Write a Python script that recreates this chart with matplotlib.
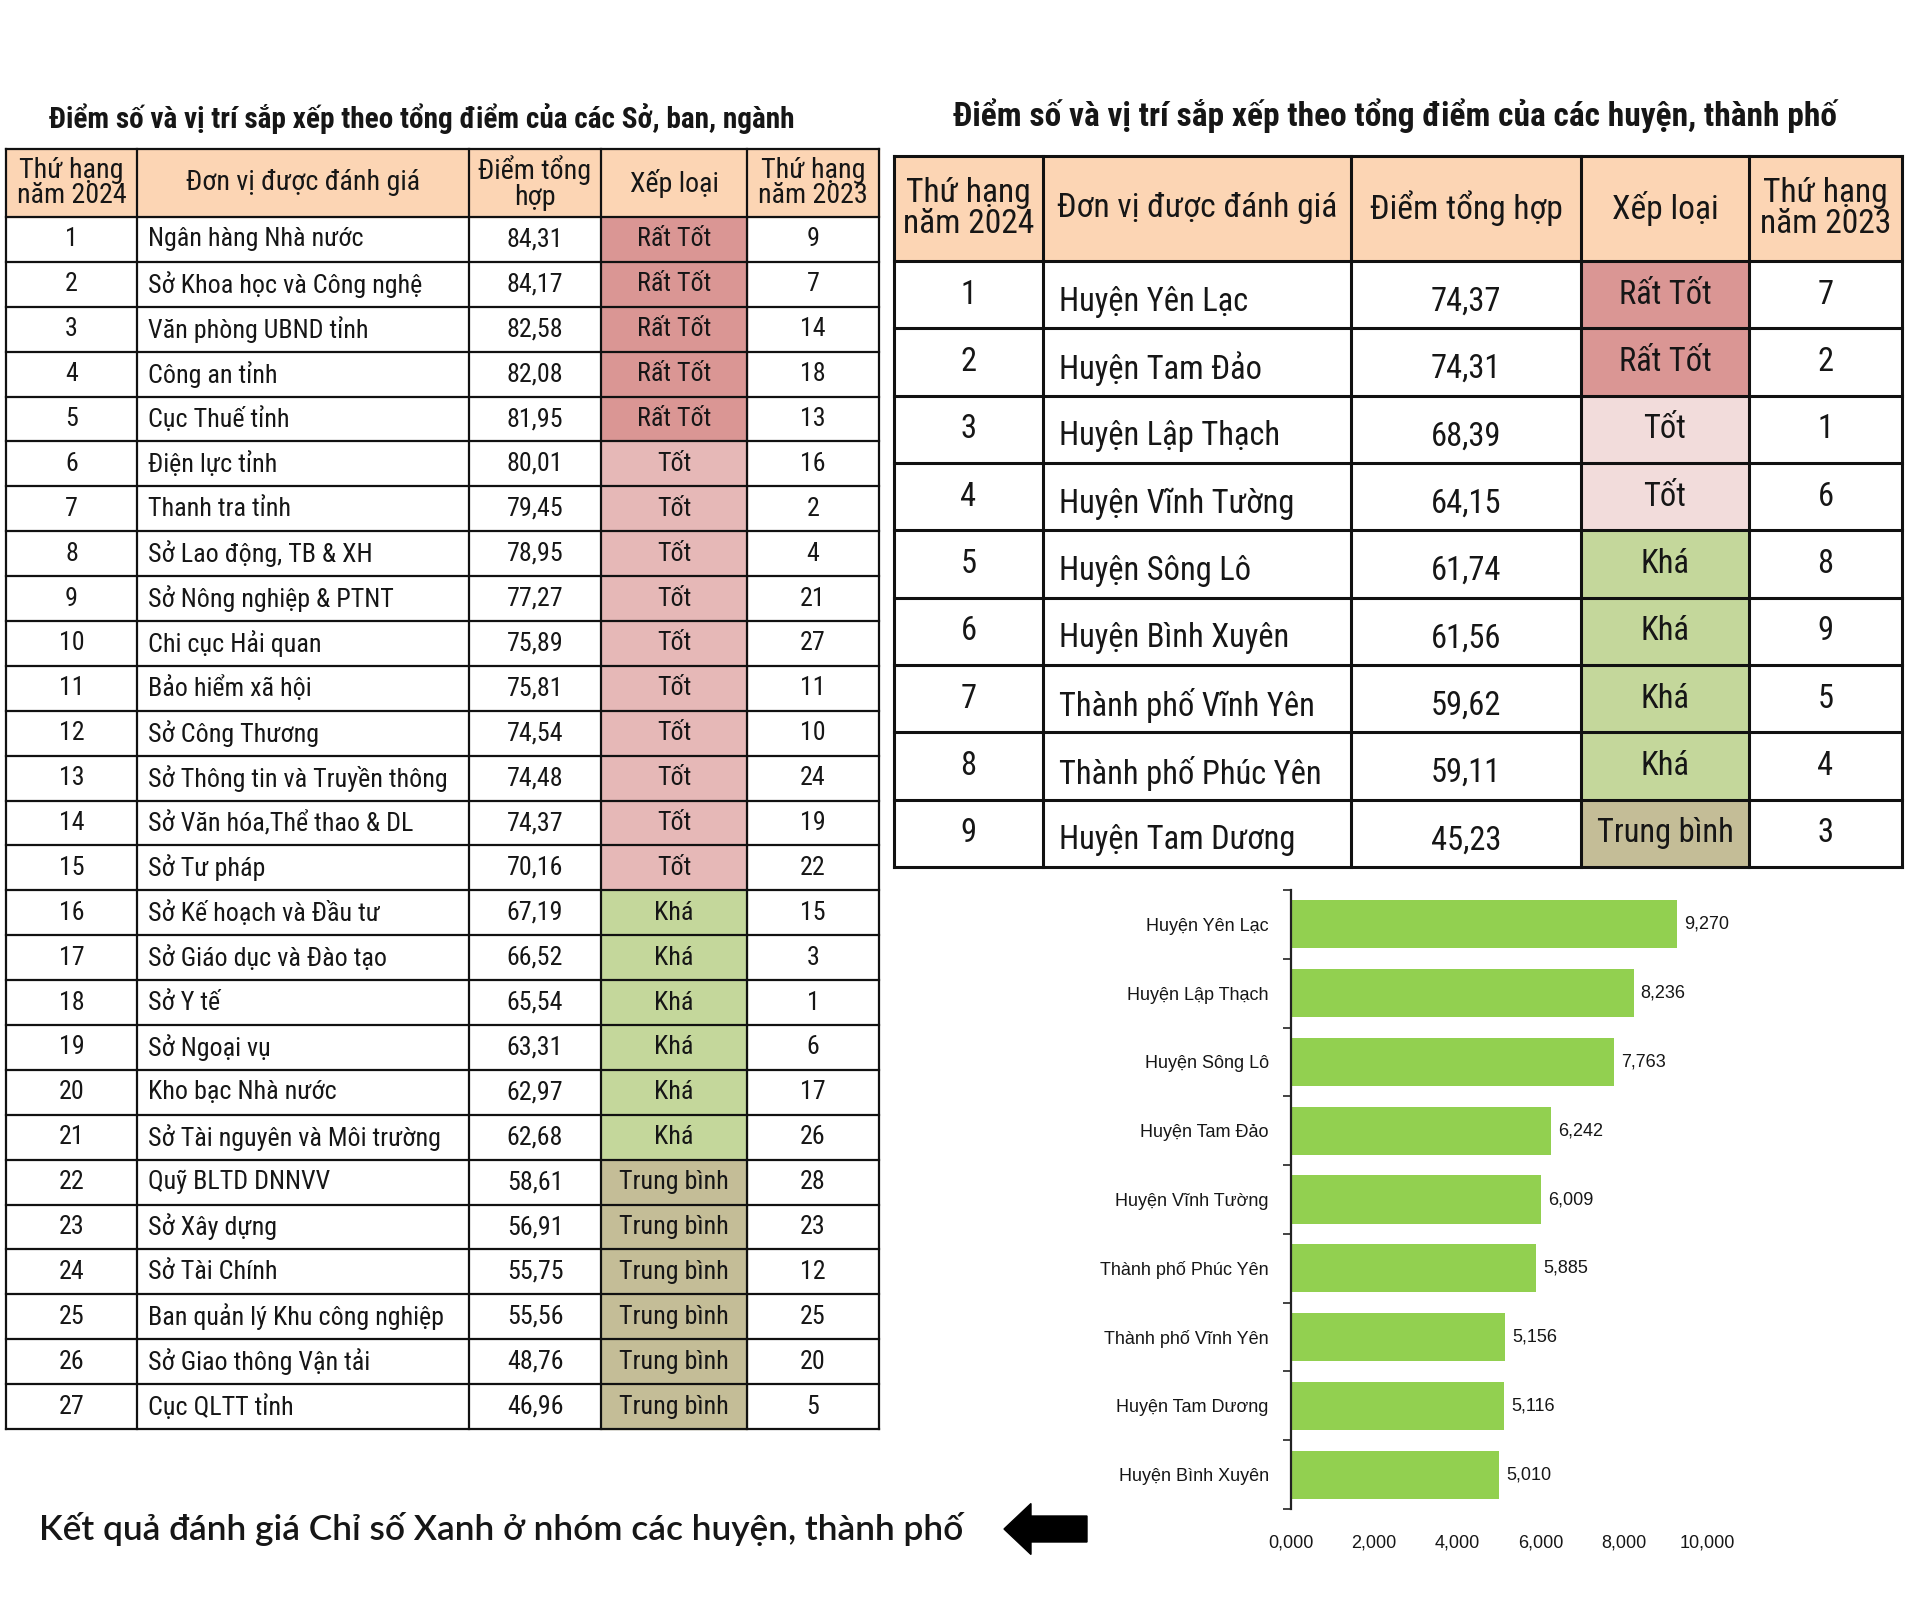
import matplotlib.pyplot as plt
from matplotlib import font_manager as fm
from matplotlib.patches import Rectangle, FancyArrow
from matplotlib.ticker import FuncFormatter, FixedLocator

# --- data: left table (Sở, ban, ngành) ---
left_rank = list(range(1, 28))
left_units = ["Ngân hàng Nhà nước", "Sở Khoa học và Công nghệ", "Văn phòng UBND tỉnh",
              "Công an tỉnh", "Cục Thuế tỉnh", "Điện lực tỉnh", "Thanh tra tỉnh",
              "Sở Lao động, TB & XH", "Sở Nông nghiệp & PTNT", "Chi cục Hải quan",
              "Bảo hiểm xã hội", "Sở Công Thương", "Sở Thông tin và Truyền thông",
              "Sở Văn hóa,Thể thao & DL", "Sở Tư pháp", "Sở Kế hoạch và Đầu tư",
              "Sở Giáo dục và Đào tạo", "Sở Y tế", "Sở Ngoại vụ", "Kho bạc Nhà nước",
              "Sở Tài nguyên và Môi trường", "Quỹ BLTD DNNVV", "Sở Xây dựng",
              "Sở Tài Chính", "Ban quản lý Khu công nghiệp", "Sở Giao thông Vận tải",
              "Cục QLTT tỉnh"]
left_scores = [84.31, 84.17, 82.58, 82.08, 81.95, 80.01, 79.45, 78.95, 77.27, 75.89,
               75.81, 74.54, 74.48, 74.37, 70.16, 67.19, 66.52, 65.54, 63.31, 62.97,
               62.68, 58.61, 56.91, 55.75, 55.56, 48.76, 46.96]
left_grades = ["Rất Tốt"] * 5 + ["Tốt"] * 10 + ["Khá"] * 6 + ["Trung bình"] * 6
left_rank_2023 = [9, 7, 14, 18, 13, 16, 2, 4, 21, 27, 11, 10, 24, 19, 22, 15, 3, 1, 6,
                  17, 26, 28, 23, 12, 25, 20, 5]

# --- data: right table (huyện, thành phố) ---
right_rank = list(range(1, 10))
right_units = ["Huyện Yên Lạc", "Huyện Tam Đảo", "Huyện Lập Thạch", "Huyện Vĩnh Tường",
               "Huyện Sông Lô", "Huyện Bình Xuyên", "Thành phố Vĩnh Yên",
               "Thành phố Phúc Yên", "Huyện Tam Dương"]
right_scores = [74.37, 74.31, 68.39, 64.15, 61.74, 61.56, 59.62, 59.11, 45.23]
right_grades = ["Rất Tốt", "Rất Tốt", "Tốt", "Tốt", "Khá", "Khá", "Khá", "Khá", "Trung bình"]
right_rank_2023 = [7, 2, 1, 6, 8, 9, 5, 4, 3]

# --- data: bar chart (Chỉ số Xanh) ---
bar_units = ["Huyện Yên Lạc", "Huyện Lập Thạch", "Huyện Sông Lô", "Huyện Tam Đảo",
             "Huyện Vĩnh Tường", "Thành phố Phúc Yên", "Thành phố Vĩnh Yên",
             "Huyện Tam Dương", "Huyện Bình Xuyên"]
bar_values = [9.270, 8.236, 7.763, 6.242, 6.009, 5.885, 5.156, 5.116, 5.010]

headers_left = ["Thứ hạng\nnăm 2024", "Đơn vị được đánh giá", "Điểm tổng\nhợp", "Xếp loại",
                "Thứ hạng\nnăm 2023"]
headers_right = ["Thứ hạng\nnăm 2024", "Đơn vị được đánh giá", "Điểm tổng hợp", "Xếp loại",
                 "Thứ hạng\nnăm 2023"]

HEADER_BG = "#FCD5B4"
TXT = "#161616"
colors_left = {"Rất Tốt": "#DA9694", "Tốt": "#E6B8B7", "Khá": "#C4D79B", "Trung bình": "#C4BD97"}
colors_right = {"Rất Tốt": "#DA9694", "Tốt": "#F2DCDB", "Khá": "#C4D79B", "Trung bình": "#C4BD97"}


def pick_font(named, stretches):
    # first a family that is condensed by name, then a condensed face of a common family
    names = {f.name for f in fm.fontManager.ttflist}
    for p in named:
        if p in names:
            return p, "normal"
    for fam in ["Noto Sans", "DejaVu Sans", "Open Sans", "Roboto", "Liberation Sans"]:
        have = {f.stretch for f in fm.fontManager.ttflist if f.name == fam}
        for st in stretches:
            if st in have:
                return fam, st
    return None


NAR = pick_font(["Liberation Sans Narrow", "Arial Narrow", "Roboto Condensed",
                 "Open Sans Condensed", "Noto Sans Condensed", "DejaVu Sans Condensed"],
                ["condensed", "semi-condensed", "extra-condensed"]) or ("Roboto", "normal")
ARIAL = ["Liberation Sans", "DejaVu Sans"]


def comma(v, nd=2):
    return f"{v:.{nd}f}".replace(".", ",")


fig = plt.figure(figsize=(19.2, 16.1), dpi=100)
renderer = fig.canvas.get_renderer()


def fit_size(s, target_px, font, weight="normal", base=20):
    t = fig.text(0, 0, s, fontsize=base, fontweight=weight, family=[font[0], "DejaVu Sans"],
                 fontstretch=font[1])
    w = t.get_window_extent(renderer=renderer).width
    t.remove()
    return base * target_px / w


def draw_table(ax, xs, y0, y1, row_h, headers, rank, units, scores, grades, rank23,
               colors, font, fs, hfs, lw, name_pad, dy_name):
    n = len(rank)
    kw = dict(family=[font[0], "DejaVu Sans"], fontstretch=font[1], color=TXT, zorder=3)
    ax.add_patch(Rectangle((xs[0], y0), xs[-1] - xs[0], y1 - y0, color=HEADER_BG, zorder=1))
    for i, h in enumerate(headers):
        ax.text((xs[i] + xs[i + 1]) / 2, (y0 + y1) / 2, h, ha="center", va="center",
                fontsize=hfs, linespacing=0.95, **kw)
    for r in range(n):
        top = y1 + r * row_h
        cy = top + row_h / 2
        ax.add_patch(Rectangle((xs[3], top), xs[4] - xs[3], row_h,
                               color=colors[grades[r]], zorder=1))
        ax.text((xs[0] + xs[1]) / 2, cy, str(rank[r]), ha="center", va="center",
                fontsize=fs, **kw)
        ax.text(xs[1] + name_pad, cy + dy_name, units[r], ha="left", va="center",
                fontsize=fs, **kw)
        ax.text((xs[2] + xs[3]) / 2, cy + dy_name, comma(scores[r]), ha="center",
                va="center", fontsize=fs, **kw)
        ax.text((xs[3] + xs[4]) / 2, cy, grades[r], ha="center", va="center",
                fontsize=fs, **kw)
        ax.text((xs[4] + xs[5]) / 2, cy, str(rank23[r]), ha="center", va="center",
                fontsize=fs, **kw)
    y_end = y1 + n * row_h
    for r in range(n + 1):
        yy = y1 + r * row_h
        ax.plot([xs[0], xs[-1]], [yy, yy], color="#111111", lw=lw, zorder=4,
                solid_capstyle="projecting")
    ax.plot([xs[0], xs[-1]], [y0, y0], color="#111111", lw=lw, zorder=4,
            solid_capstyle="projecting")
    for x in xs:
        ax.plot([x, x], [y0, y_end], color="#111111", lw=lw, zorder=4,
                solid_capstyle="projecting")


bg = fig.add_axes([0, 0, 1, 1])
bg.set_xlim(0, 1920)
bg.set_ylim(1610, 0)
bg.axis("off")

# titles, sized to the width they take in the picture
t1 = "Điểm số và vị trí sắp xếp theo tổng điểm của các Sở, ban, ngành"
t2 = "Điểm số và vị trí sắp xếp theo tổng điểm của các huyện, thành phố"
bg.text(49, 119, t1, ha="left", va="center", fontsize=fit_size(t1, 744, NAR, "bold"),
        fontweight="bold", family=[NAR[0], "DejaVu Sans"], fontstretch=NAR[1], color=TXT)
bg.text(953, 116, t2, ha="left", va="center", fontsize=fit_size(t2, 880, NAR, "bold"),
        fontweight="bold", family=[NAR[0], "DejaVu Sans"], fontstretch=NAR[1], color=TXT)

fs_l = min(fit_size("Sở Thông tin và Truyền thông", 298, NAR), 21)
hfs_l = min(fit_size("Đơn vị được đánh giá", 234, NAR), 21)
# the right table text is drawn tall in the picture, so go a little larger there
fs_r = min(fit_size("Thành phố Phúc Yên", 262, NAR), 32)
hfs_r = min(fit_size("Đơn vị được đánh giá", 280, NAR), 32)

draw_table(bg, [6, 137, 469, 601, 747, 879], 149, 217, (1429 - 217) / 27, headers_left,
           left_rank, left_units, left_scores, left_grades, left_rank_2023, colors_left,
           NAR, fs=fs_l, hfs=hfs_l, lw=1.6, name_pad=11, dy_name=0)
draw_table(bg, [894, 1043, 1351, 1581, 1749, 1902], 156, 261, (867 - 261) / 9, headers_right,
           right_rank, right_units, right_scores, right_grades, right_rank_2023, colors_right,
           NAR, fs=fs_r, hfs=hfs_r, lw=2.2, name_pad=16, dy_name=7)

# caption and arrow
cap = "Kết quả đánh giá Chỉ số Xanh ở nhóm các huyện, thành phố"
bg.text(39, 1529, cap, ha="left", va="center",
        fontsize=fit_size(cap, 923, ("Lato", "normal"), "semibold"),
        fontweight="semibold", family=["Lato", "DejaVu Sans"], color=TXT)
bg.add_patch(FancyArrow(1087, 1529, -83, 0, width=26, head_width=51, head_length=27,
                        length_includes_head=True, color="black"))

# bar chart
ax = fig.add_axes([1291 / 1920, 1 - 1509 / 1610, 416 / 1920, 619 / 1610])
y = list(range(len(bar_units)))
ax.barh(y, bar_values, height=0.7, color="#92D050")
for yi, v in zip(y, bar_values):
    ax.text(v + 0.17, yi, comma(v, 3), ha="left", va="center", fontsize=13,
            family=ARIAL, color=TXT)
ax.set_ylim(len(bar_units) - 0.5, -0.5)
ax.set_xlim(0, 10)
ax.set_yticks(y)
ax.set_yticklabels(bar_units, fontsize=13, family=ARIAL, color=TXT)
ax.yaxis.set_minor_locator(FixedLocator([k - 0.5 for k in range(len(bar_units) + 1)]))
ax.tick_params(axis="y", which="major", length=0, pad=16)
ax.tick_params(axis="y", which="minor", length=6, width=1.2, color="#222222")
ax.set_xticks([0, 2, 4, 6, 8, 10])
ax.xaxis.set_major_formatter(FuncFormatter(lambda v, p: comma(v, 3)))
ax.tick_params(axis="x", length=0, pad=18, labelsize=13)
for lab in ax.get_xticklabels():
    lab.set_family(ARIAL)
    lab.set_color(TXT)
for s in ["top", "right", "bottom"]:
    ax.spines[s].set_visible(False)
ax.spines["left"].set_linewidth(1.6)
ax.spines["left"].set_color("#222222")
ax.set_facecolor("none")

fig.savefig("out.png", dpi=100, facecolor="white")
